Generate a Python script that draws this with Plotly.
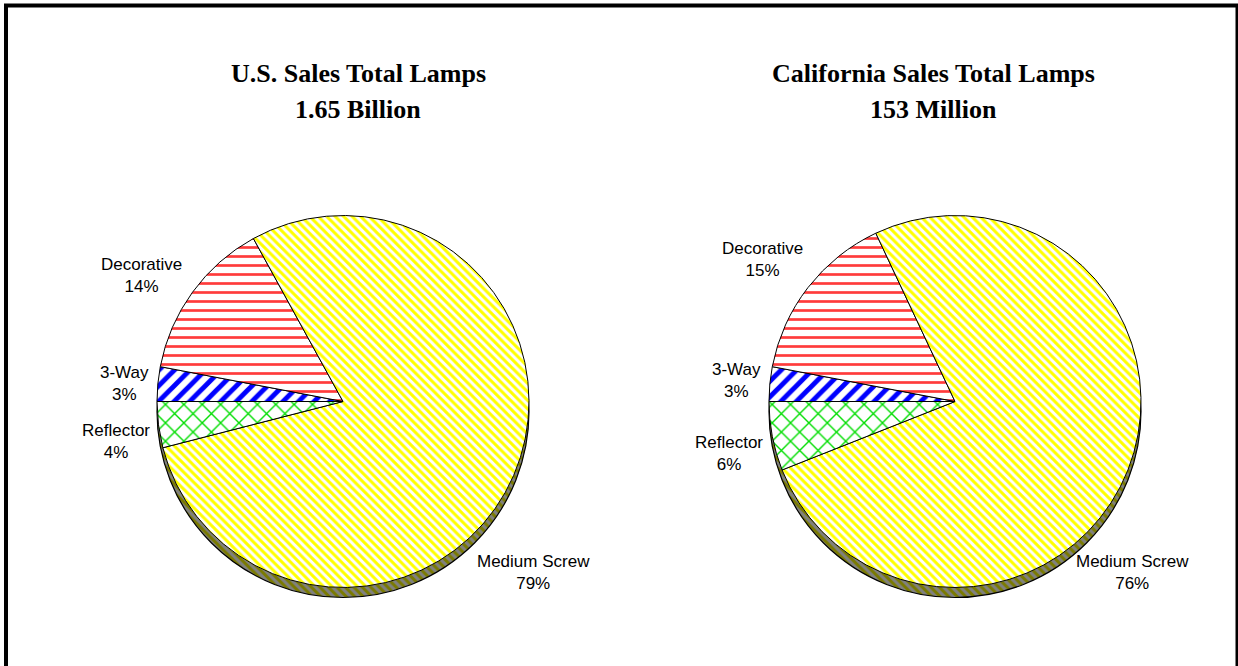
import plotly.graph_objects as go

# Lamp sales share by type (percent of total units)
categories = ["3-Way", "Decorative", "Medium Screw", "Reflector"]
us_share = [3, 14, 79, 4]
ca_share = [3, 15, 76, 6]

titles = [
    ("U.S. Sales Total Lamps", "1.65 Billion"),
    ("California Sales Total Lamps", "153 Million"),
]

W, H = 1238, 666

# slice fills: colour, hatch shape, hatch size, hatch solidity, background
fills = {
    "3-Way": ("#0000ff", "/", 11, 0.45, "white"),
    "Decorative": ("#ff3b3b", "-", 9, 0.3, "white"),
    "Medium Screw": ("#ffff00", "\\", 6, 0.5, "white"),
    "Reflector": ("#00dd00", "x", 13, 0.2, "white"),
}

# pie placement in pixels: centre x, centre y, radius
pies = [(343, 401.5, 186), (955, 401.5, 186)]
shadow_drop = 10

# label anchor points in pixels (centre of the two-line label)
label_pos = [
    {"3-Way": (124, 383), "Decorative": (141, 275),
     "Medium Screw": (533, 572), "Reflector": (116, 441.5)},
    {"3-Way": (736, 380.5), "Decorative": (762, 259.5),
     "Medium Screw": (1132, 572), "Reflector": (729, 453.5)},
]
title_pos = [(358, 73, 109), (933, 73, 109)]


def px_dom(cx, cy, r):
    return dict(x=[(cx - r) / W, (cx + r) / W],
                y=[1 - (cy + r) / H, 1 - (cy - r) / H])


fig = go.Figure()

for (cx, cy, r), share in zip(pies, [us_share, ca_share]):
    # darker rim giving the disc some thickness
    fig.add_trace(go.Pie(
        values=[sum(share)], labels=["rim"], sort=False,
        domain=px_dom(cx, cy + shadow_drop, r),
        marker=dict(colors=["#7a7a00"],
                    line=dict(color="black", width=1.2),
                    pattern=dict(shape="\\", fgcolor="#808080",
                                 bgcolor="#7a7a00", size=6, solidity=0.5)),
        textinfo="none", hoverinfo="skip", showlegend=False,
    ))
    fig.add_trace(go.Pie(
        values=share, labels=categories, sort=False,
        direction="clockwise", rotation=270,
        domain=px_dom(cx, cy, r),
        marker=dict(
            colors=[fills[c][4] for c in categories],
            line=dict(color="black", width=1),
            pattern=dict(
                shape=[fills[c][1] for c in categories],
                fgcolor=[fills[c][0] for c in categories],
                bgcolor=[fills[c][4] for c in categories],
                size=[fills[c][2] for c in categories],
                solidity=[fills[c][3] for c in categories],
            ),
        ),
        textinfo="none", showlegend=False,
    ))

annotations = []
for pos, share in zip(label_pos, [us_share, ca_share]):
    for cat, val in zip(categories, share):
        x, y = pos[cat]
        annotations.append(dict(
            x=x / W, y=1 - y / H, xref="paper", yref="paper",
            xanchor="center", yanchor="middle", showarrow=False,
            text=f"{cat}<br>{val}%",
            font=dict(family="Liberation Sans, Arial", size=17, color="black"),
        ))

for (l1, l2), (tx, y1, y2) in zip(titles, title_pos):
    for txt, ty in ((l1, y1), (l2, y2)):
        annotations.append(dict(
            x=tx / W, y=1 - ty / H, xref="paper", yref="paper",
            xanchor="center", yanchor="middle", showarrow=False,
            text=f"<b>{txt}</b>",
            font=dict(family="Liberation Serif, Times New Roman", size=26,
                      color="black"),
        ))

fig.update_layout(
    width=W, height=H,
    margin=dict(l=0, r=0, t=0, b=0),
    paper_bgcolor="white", plot_bgcolor="white",
    annotations=annotations,
    shapes=[dict(type="rect", xref="paper", yref="paper",
                 x0=6 / W, x1=1237.5 / W, y0=-0.05, y1=1 - 5.5 / H,
                 line=dict(color="black", width=4))],
)

fig.write_html("out.html")
